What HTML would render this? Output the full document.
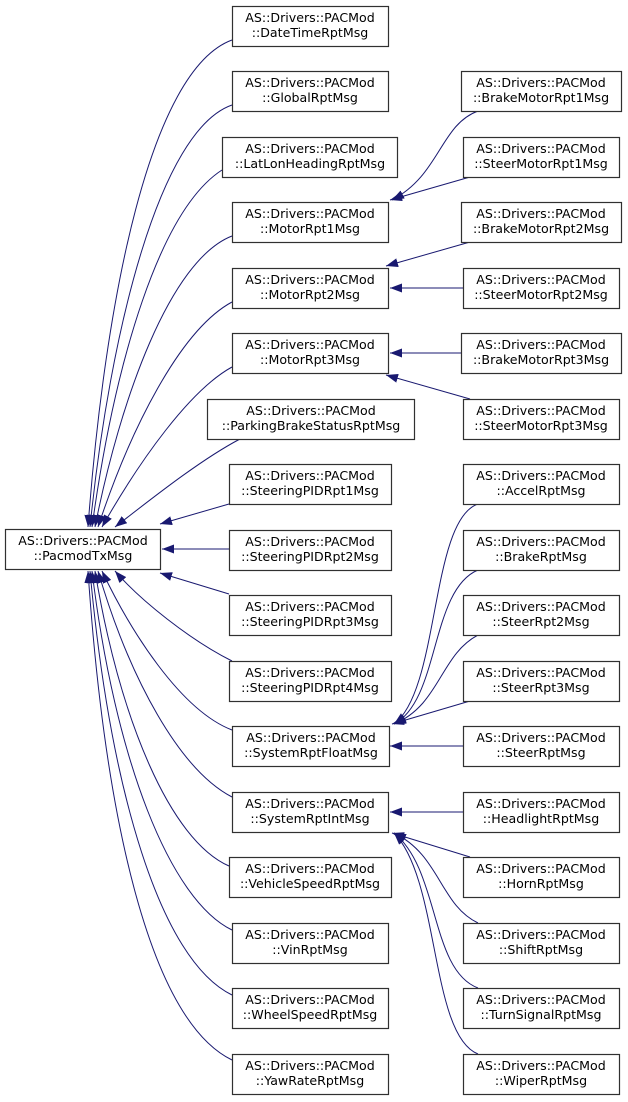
<!DOCTYPE html>
<html><head><meta charset="utf-8"><style>
html,body{margin:0;padding:0;background:#fff;}
svg text{font-family:"DejaVu Sans","Liberation Sans",sans-serif;font-size:12.6px;fill:#000;}
</style></head><body>
<svg width="628" height="1097" viewBox="0 0 628 1097" xmlns="http://www.w3.org/2000/svg">
<defs>
<marker id="a" viewBox="0 0 12 9" refX="12" refY="4.5" markerWidth="12" markerHeight="9" markerUnits="userSpaceOnUse" orient="auto">
<path d="M0,0 L12,4.5 L0,9 z" fill="#191970"/>
</marker>
</defs>
<g fill="none" stroke="#191970" stroke-width="1" marker-end="url(#a)">
<path d="M232,40 C150,70 105,300 88,527"/>
<path d="M232,105 C160,130 110,330 90,527"/>
<path d="M222,170 C160,210 115,360 92,527"/>
<path d="M232,236 C170,260 120,400 95,527"/>
<path d="M232,302 C180,330 130,430 98,527"/>
<path d="M232,367 C190,390 140,460 102,527"/>
<path d="M240,439 C200,460 150,500 115,527"/>
<path d="M229,504 L160,524"/>
<path d="M229,549 L162,549"/>
<path d="M229,594 L160,573"/>
<path d="M232,661 C190,640 140,600 115,571"/>
<path d="M232,730 C180,710 130,630 102,571"/>
<path d="M232,797 C180,770 130,680 98,571"/>
<path d="M229,866 C170,840 120,720 95,571"/>
<path d="M232,930 C170,900 115,760 92,571"/>
<path d="M232,995 C160,960 110,790 90,571"/>
<path d="M232,1060 C150,1020 105,820 88,571"/>
<path d="M478,111 C440,125 440,175 392,200"/>
<path d="M470,177 L390,200"/>
<path d="M470,242 L386,266"/>
<path d="M463,288 L390,288"/>
<path d="M463,353 L390,353"/>
<path d="M470,399 L386,375"/>
<path d="M478,504 C430,520 440,690 394,724"/>
<path d="M478,570 C430,590 440,700 394,724"/>
<path d="M478,635 C440,655 440,705 394,724"/>
<path d="M470,701 L392,724"/>
<path d="M463,746 L390,746"/>
<path d="M463,812 L390,812"/>
<path d="M470,857 L392,833"/>
<path d="M478,923 C440,905 440,855 394,833"/>
<path d="M478,988 C430,970 440,870 394,833"/>
<path d="M478,1054 C430,1035 440,880 394,833"/>
</g>
<g fill="#fff" stroke="#303030" stroke-width="1.2">
<rect x="5.5" y="529.5" width="155" height="40"/>
<rect x="232.5" y="6.5" width="156" height="40"/>
<rect x="232.5" y="71.5" width="156" height="40"/>
<rect x="222.5" y="137.5" width="175" height="40"/>
<rect x="232.5" y="202.5" width="156" height="40"/>
<rect x="232.5" y="268.5" width="156" height="40"/>
<rect x="232.5" y="333.5" width="156" height="40"/>
<rect x="207.5" y="399.5" width="207" height="40"/>
<rect x="229.5" y="464.5" width="162" height="40"/>
<rect x="229.5" y="530.5" width="162" height="40"/>
<rect x="229.5" y="595.5" width="162" height="40"/>
<rect x="229.5" y="661.5" width="162" height="40"/>
<rect x="232.5" y="726.5" width="157" height="40"/>
<rect x="232.5" y="792.5" width="156" height="40"/>
<rect x="229.5" y="857.5" width="162" height="40"/>
<rect x="232.5" y="923.5" width="156" height="40"/>
<rect x="232.5" y="988.5" width="156" height="40"/>
<rect x="232.5" y="1054.5" width="156" height="40"/>
<rect x="461.5" y="71.5" width="160" height="40"/>
<rect x="463.5" y="137.5" width="156" height="40"/>
<rect x="461.5" y="202.5" width="160" height="40"/>
<rect x="463.5" y="268.5" width="156" height="40"/>
<rect x="461.5" y="333.5" width="160" height="40"/>
<rect x="463.5" y="399.5" width="156" height="40"/>
<rect x="463.5" y="464.5" width="156" height="40"/>
<rect x="463.5" y="530.5" width="156" height="40"/>
<rect x="463.5" y="595.5" width="156" height="40"/>
<rect x="463.5" y="661.5" width="156" height="40"/>
<rect x="463.5" y="726.5" width="156" height="40"/>
<rect x="463.5" y="792.5" width="156" height="40"/>
<rect x="463.5" y="857.5" width="156" height="40"/>
<rect x="463.5" y="923.5" width="156" height="40"/>
<rect x="463.5" y="988.5" width="156" height="40"/>
<rect x="463.5" y="1054.5" width="156" height="40"/>
</g>
<g text-anchor="middle">
<text x="83" y="545">AS::Drivers::PACMod</text><text x="83" y="560">::PacmodTxMsg</text>
<text x="310" y="22">AS::Drivers::PACMod</text><text x="310" y="37">::DateTimeRptMsg</text>
<text x="310" y="87">AS::Drivers::PACMod</text><text x="310" y="102">::GlobalRptMsg</text>
<text x="310" y="153">AS::Drivers::PACMod</text><text x="310" y="168">::LatLonHeadingRptMsg</text>
<text x="310" y="218">AS::Drivers::PACMod</text><text x="310" y="233">::MotorRpt1Msg</text>
<text x="310" y="284">AS::Drivers::PACMod</text><text x="310" y="299">::MotorRpt2Msg</text>
<text x="310" y="349">AS::Drivers::PACMod</text><text x="310" y="364">::MotorRpt3Msg</text>
<text x="311" y="415">AS::Drivers::PACMod</text><text x="311" y="430">::ParkingBrakeStatusRptMsg</text>
<text x="310" y="480">AS::Drivers::PACMod</text><text x="310" y="495">::SteeringPIDRpt1Msg</text>
<text x="310" y="546">AS::Drivers::PACMod</text><text x="310" y="561">::SteeringPIDRpt2Msg</text>
<text x="310" y="611">AS::Drivers::PACMod</text><text x="310" y="626">::SteeringPIDRpt3Msg</text>
<text x="310" y="677">AS::Drivers::PACMod</text><text x="310" y="692">::SteeringPIDRpt4Msg</text>
<text x="311" y="742">AS::Drivers::PACMod</text><text x="311" y="757">::SystemRptFloatMsg</text>
<text x="310" y="808">AS::Drivers::PACMod</text><text x="310" y="823">::SystemRptIntMsg</text>
<text x="310" y="873">AS::Drivers::PACMod</text><text x="310" y="888">::VehicleSpeedRptMsg</text>
<text x="310" y="939">AS::Drivers::PACMod</text><text x="310" y="954">::VinRptMsg</text>
<text x="310" y="1004">AS::Drivers::PACMod</text><text x="310" y="1019">::WheelSpeedRptMsg</text>
<text x="310" y="1070">AS::Drivers::PACMod</text><text x="310" y="1085">::YawRateRptMsg</text>
<text x="541" y="87">AS::Drivers::PACMod</text><text x="541" y="102">::BrakeMotorRpt1Msg</text>
<text x="541" y="153">AS::Drivers::PACMod</text><text x="541" y="168">::SteerMotorRpt1Msg</text>
<text x="541" y="218">AS::Drivers::PACMod</text><text x="541" y="233">::BrakeMotorRpt2Msg</text>
<text x="541" y="284">AS::Drivers::PACMod</text><text x="541" y="299">::SteerMotorRpt2Msg</text>
<text x="541" y="349">AS::Drivers::PACMod</text><text x="541" y="364">::BrakeMotorRpt3Msg</text>
<text x="541" y="415">AS::Drivers::PACMod</text><text x="541" y="430">::SteerMotorRpt3Msg</text>
<text x="541" y="480">AS::Drivers::PACMod</text><text x="541" y="495">::AccelRptMsg</text>
<text x="541" y="546">AS::Drivers::PACMod</text><text x="541" y="561">::BrakeRptMsg</text>
<text x="541" y="611">AS::Drivers::PACMod</text><text x="541" y="626">::SteerRpt2Msg</text>
<text x="541" y="677">AS::Drivers::PACMod</text><text x="541" y="692">::SteerRpt3Msg</text>
<text x="541" y="742">AS::Drivers::PACMod</text><text x="541" y="757">::SteerRptMsg</text>
<text x="541" y="808">AS::Drivers::PACMod</text><text x="541" y="823">::HeadlightRptMsg</text>
<text x="541" y="873">AS::Drivers::PACMod</text><text x="541" y="888">::HornRptMsg</text>
<text x="541" y="939">AS::Drivers::PACMod</text><text x="541" y="954">::ShiftRptMsg</text>
<text x="541" y="1004">AS::Drivers::PACMod</text><text x="541" y="1019">::TurnSignalRptMsg</text>
<text x="541" y="1070">AS::Drivers::PACMod</text><text x="541" y="1085">::WiperRptMsg</text>
</g>
</svg>
</body></html>
